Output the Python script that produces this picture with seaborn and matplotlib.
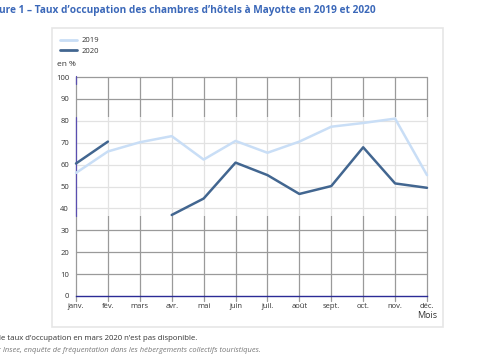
import numpy as np
import pandas as pd
import matplotlib
matplotlib.use('Agg')
import matplotlib.pyplot as plt
import seaborn as sns
from matplotlib.patches import Rectangle
from matplotlib.lines import Line2D

# données
mois_labels = ['janv.', 'fév.', 'mars', 'avr.', 'mai', 'juin', 'juil.', 'août', 'sept.', 'oct.', 'nov.', 'déc.']
taux_2019 = [56.2, 66.0, 70.2, 73.0, 62.3, 70.8, 65.4, 70.5, 77.3, 79.0, 81.0, 55.2]
taux_2020 = [60.5, 70.5, np.nan, 37.0, 44.5, 60.9, 55.2, 46.6, 50.2, 67.9, 51.4, 49.4]
y_ticks = [0, 10, 20, 30, 40, 50, 60, 70, 80, 90, 100]

sns.set_style('white')
plt.rcParams['font.family'] = ['Open Sans', 'DejaVu Sans']

df = pd.DataFrame({'idx': range(12), '2019': taux_2019, '2020': taux_2020})
long = df.melt(id_vars='idx', var_name='annee', value_name='taux')
# segments séparés par les valeurs manquantes (mars 2020)
long['seg'] = long.groupby('annee')['taux'].transform(lambda s: s.isna().cumsum())
long['unit'] = long['annee'] + '_' + long['seg'].astype(str)
long = long.dropna()

fig = plt.figure(figsize=(4.85, 3.6), dpi=100)
ax = fig.add_axes([76/485, 1-296/360, (427-76)/485, (296-77)/360])

# cadre gris clair
fig.patches.append(Rectangle((52/485, 1-327/360), (443-52)/485, (327-28)/360,
                             transform=fig.transFigure, fill=False, edgecolor='#e6e6e6', lw=1.2))

# grille
for x in range(12):
    ax.axvline(x, color='#9a9a9a', lw=0.9, zorder=1, clip_on=False, ymin=-0.025, ymax=1)
for y in y_ticks[1:]:
    ax.axhline(y, color='#9a9a9a', lw=0.9, zorder=1)
# bande estompée
ax.add_patch(Rectangle((0, 36.7), 11.05, 45, facecolor='white', alpha=0.72, edgecolor='none', zorder=2, clip_on=False))
ax.plot([0, 0], [36.7, 81.7], color='#5a4fb0', lw=0.9, zorder=3)
ax.plot([0, 0], [97, 100.5], color='#5a4fb0', lw=0.9, zorder=3, clip_on=False)

palette = {'2019': '#c9def6', '2020': '#426690'}
sns.lineplot(data=long, x='idx', y='taux', hue='annee', units='unit', estimator=None,
             palette=palette, ax=ax, linewidth=1.8, legend=False, zorder=4)
for l in ax.lines:
    l.set_clip_on(False)

ax.set_xlim(0, 11)
ax.set_ylim(0, 100)
ax.set_xticks(range(12))
ax.set_xticklabels(mois_labels, fontsize=5.5, color='#333333')
ax.set_yticks(y_ticks)
ax.set_yticklabels(y_ticks, fontsize=5.5, color='#333333')
ax.tick_params(axis='both', length=0, pad=5)
ax.set_xlabel('')
ax.set_ylabel('')
for s in ['top', 'right', 'left']:
    ax.spines[s].set_visible(False)
ax.spines['bottom'].set_color('#2b2b96')
ax.spines['bottom'].set_linewidth(1.0)
ax.spines['bottom'].set_zorder(5)

fig.text(57/485, 1-65/360, 'en %', fontsize=6, color='#333333', va='center')
fig.text(427/485, 1-315/360, 'Mois', fontsize=6.5, color='#333333', ha='center', va='center')

# légende
handles = [Line2D([0], [0], color=palette['2019'], lw=2), Line2D([0], [0], color=palette['2020'], lw=2)]
fig.legend(handles, ['2019', '2020'], loc='upper left', bbox_to_anchor=(53/485, 1-30/360),
           frameon=False, fontsize=5.5, handlelength=2.2, handletextpad=0.6, labelspacing=0.4,
           labelcolor='#333333')

fig.text(-0.002, 1-11/360, 'ure 1 – Taux d’occupation des chambres d’hôtels à Mayotte en 2019 et 2020',
         fontsize=7.3, fontweight='bold', color='#3b68b9', va='center')
fig.text(-0.002, 1-338/360, 'le taux d’occupation en mars 2020 n’est pas disponible.',
         fontsize=5.6, color='#333333', va='center')
fig.text(-0.002, 1-351/360, ': Insee, enquête de fréquentation dans les hébergements collectifs touristiques.',
         fontsize=5.4, color='#777777', style='italic', va='center')

fig.savefig('out.png', dpi=100)
